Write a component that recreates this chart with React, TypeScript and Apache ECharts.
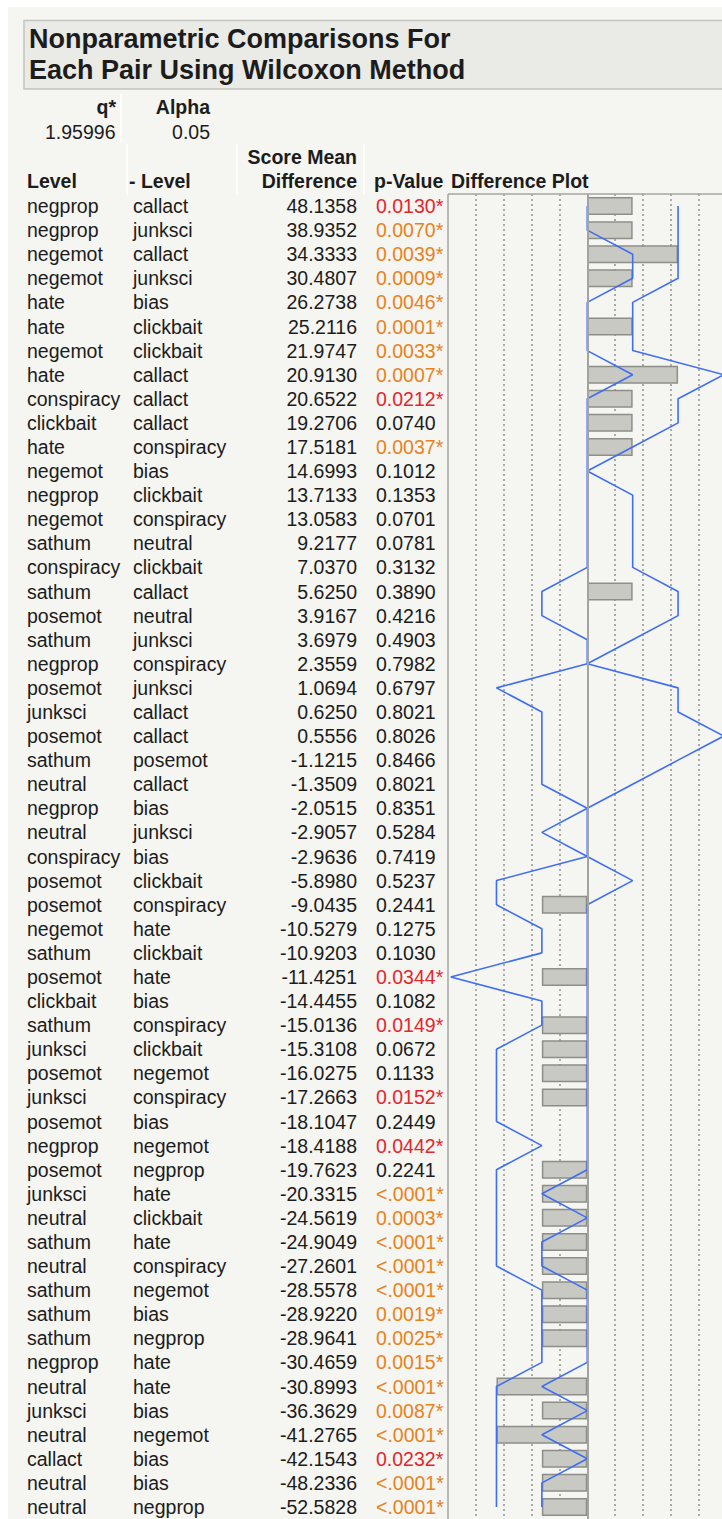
import React, { useEffect, useRef } from "react";
import * as echarts from "echarts";

const LEVELS = ["negprop","negprop","negemot","negemot","hate","hate","negemot","hate","conspiracy","clickbait","hate","negemot","negprop","negemot","sathum","conspiracy","sathum","posemot","sathum","negprop","posemot","junksci","posemot","sathum","neutral","negprop","neutral","conspiracy","posemot","posemot","negemot","sathum","posemot","clickbait","sathum","junksci","posemot","junksci","posemot","negprop","posemot","junksci","neutral","sathum","neutral","sathum","sathum","sathum","negprop","neutral","junksci","neutral","callact","neutral","neutral"];

const MINUS_LEVELS = ["callact","junksci","callact","junksci","bias","clickbait","clickbait","callact","callact","callact","conspiracy","bias","clickbait","conspiracy","neutral","clickbait","callact","neutral","junksci","conspiracy","junksci","callact","callact","posemot","callact","bias","junksci","bias","clickbait","conspiracy","hate","clickbait","hate","bias","conspiracy","clickbait","negemot","conspiracy","bias","negemot","negprop","hate","clickbait","hate","conspiracy","negemot","bias","negprop","hate","hate","bias","negemot","bias","bias","negprop"];

const SCORE_DIFF = [48.1358,38.9352,34.3333,30.4807,26.2738,25.2116,21.9747,20.9130,20.6522,19.2706,17.5181,14.6993,13.7133,13.0583,9.2177,7.0370,5.6250,3.9167,3.6979,2.3559,1.0694,0.6250,0.5556,-1.1215,-1.3509,-2.0515,-2.9057,-2.9636,-5.8980,-9.0435,-10.5279,-10.9203,-11.4251,-14.4455,-15.0136,-15.3108,-16.0275,-17.2663,-18.1047,-18.4188,-19.7623,-20.3315,-24.5619,-24.9049,-27.2601,-28.5578,-28.9220,-28.9641,-30.4659,-30.8993,-36.3629,-41.2765,-42.1543,-48.2336,-52.5828];

const P_VALUES = ["0.0130","0.0070","0.0039","0.0009","0.0046","0.0001","0.0033","0.0007","0.0212","0.0740","0.0037","0.1012","0.1353","0.0701","0.0781","0.3132","0.3890","0.4216","0.4903","0.7982","0.6797","0.8021","0.8026","0.8466","0.8021","0.8351","0.5284","0.7419","0.5237","0.2441","0.1275","0.1030","0.0344","0.1082","0.0149","0.0672","0.1133","0.0152","0.2449","0.0442","0.2241","<.0001","0.0003","<.0001","<.0001","<.0001","0.0019","0.0025","0.0015","<.0001","0.0087","<.0001","0.0232","<.0001","<.0001"];

// Difference plot bars as drawn in the picture (plot units, null = no bar)
const PLOT_BARS = [16.3,16.3,32.6,16.3,null,16.3,null,32.6,16.3,16.3,16.3,null,null,null,null,null,16.3,
  null,null,null,null,null,null,null,null,null,null,null,null,
  -16.3,null,null,-16.3,null,-16.3,-16.3,-16.3,-16.3,null,null,-16.3,-16.3,-16.3,-16.3,-16.3,-16.3,-16.3,-16.3,null,-32.6,-16.3,-32.6,-16.3,-16.3,-16.3];

// Blue lines in the difference plot (plot units)
const UPPER_LINE = [32.6,32.6,32.6,32.6,16.3,16.3,16.3,49,32.6,32.6,16.3,0,
  16.3,16.3,16.3,16.3,32.6,32.6,16.3,0,32.6,32.6,49,32.6,16.3,0,0,0,16.3,0,
  0,0,0,0,0,0,0,0,0,0,0,
  -16.3,0,-16.3,-16.3,0,0,0,0,-16.3,0,-16.3,0,-16.3,-16.3];

const LOWER_LINE = [0,0,16.3,16.3,0,0,0,16.3,0,0,0,0,
  0,0,0,0,-16.3,-16.3,0,0,-32.6,-16.3,-16.3,-16.3,-16.3,0,-16.3,0,-32.6,-32.6,
  -16.3,-16.3,-49,-16.3,-16.3,-32.6,-32.6,-32.6,-32.6,-16.3,-32.6,
  -32.6,-32.6,-32.6,-32.6,-16.3,-16.3,-16.3,-16.3,-32.6,-32.6,-32.6,-32.6,-32.6,-32.6];

const Q_STAR = "1.95996";
const ALPHA = "0.05";

const FONT = "'Liberation Sans', Arial, Helvetica, sans-serif";
const TXT = "#1c1c1c";
const RED = "#e3262f";
const ORANGE = "#e8821c";

function pNum(p: string) {
  return p.startsWith("<") ? 0.00001 : parseFloat(p);
}

export default function App() {
  const ref = useRef<HTMLDivElement>(null);

  useEffect(() => {
    const chart = echarts.init(ref.current!, null, { renderer: "svg" });
    const cats = LEVELS.map((_, i) => String(i));
    const fs = 19.5;

    const baseY = (offset: number, align: string, fmt: (i: number) => string, extra: any = {}) => ({
      type: "category",
      data: cats,
      inverse: true,
      gridIndex: 0,
      position: "left",
      offset,
      axisLine: { show: false },
      axisTick: { show: false },
      splitLine: { show: false },
      axisLabel: {
        interval: 0,
        margin: 0,
        align,
        fontFamily: FONT,
        fontSize: fs,
        color: TXT,
        formatter: (v: string) => fmt(Number(v)),
        ...extra,
      },
    });

    const headText = (text: string, x: number, y: number, align: string, bold = true, size = fs) => ({
      type: "text",
      x,
      y,
      z: 100,
      style: {
        text,
        fill: TXT,
        fontFamily: FONT,
        fontSize: size,
        fontWeight: bold ? "bold" : "normal",
        align,
        verticalAlign: "middle",
      },
    });

    const line = (x1: number, y1: number, x2: number, y2: number, color: string, z: number) => ({
      type: "line",
      z,
      shape: { x1, y1, x2, y2 },
      style: { stroke: color, lineWidth: 1.5 },
    });

    chart.setOption({
      animation: false,
      backgroundColor: "#ffffff",
      graphic: [
        { type: "rect", z: -100, shape: { x: 8, y: 7, width: 720, height: 1520 }, style: { fill: "#f5f5f1" } },
        { type: "rect", z: -90, shape: { x: 24, y: 20.5, width: 720, height: 68.5 }, style: { fill: "#eaeae6", stroke: "#c4c4bf", lineWidth: 1.5 } },
        headText("Nonparametric Comparisons For", 29, 39, "left", true, 27),
        headText("Each Pair Using Wilcoxon Method", 29, 70, "left", true, 27),
        line(121, 94, 121, 142, "#ffffff", 1),
        line(127, 144, 127, 195, "#ffffff", 1),
        line(237, 144, 237, 195, "#ffffff", 1),
        line(364, 144, 364, 195, "#ffffff", 1),
        line(448, 194, 448, 1530, "#a4a4a0", 50),
        line(448, 194, 730, 194, "#a4a4a0", 50),
        headText("q*", 116, 107, "right"),
        headText("Alpha", 210, 107, "right"),
        headText(Q_STAR, 115.5, 132, "right", false),
        headText(ALPHA, 210, 132, "right", false),
        headText("Score Mean", 357, 157, "right"),
        headText("Level", 27, 180.5, "left"),
        headText("- Level", 129, 180.5, "left"),
        headText("Difference", 357, 180.5, "right"),
        headText("p-Value", 374, 180.5, "left"),
        headText("Difference Plot", 451, 180.5, "left"),
      ],
      grid: {
        left: 448,
        top: 194,
        right: 0,
        height: 1326.05,
        show: false,
        containLabel: false,
      },
      xAxis: {
        type: "value",
        min: -50,
        max: 48.37,
        interval: 10,
        axisLabel: { show: false },
        axisLine: { show: false },
        axisTick: { show: false },
        splitLine: {
          show: true,
          showMinLine: false,
          showMaxLine: false,
          lineStyle: { type: [2, 3], color: "#93938f", width: 1.5 },
        },
      },
      yAxis: [
        baseY(421, "left", (i) => LEVELS[i]),
        baseY(315, "left", (i) => MINUS_LEVELS[i]),
        baseY(91, "right", (i) => SCORE_DIFF[i].toFixed(4)),
        baseY(72, "left", (i) => {
          const p = P_VALUES[i];
          const v = pNum(p);
          if (v < 0.01) return "{o|" + p + "*}";
          if (v < 0.05) return "{r|" + p + "*}";
          return p;
        }, {
          rich: {
            o: { color: ORANGE, fontFamily: FONT, fontSize: fs },
            r: { color: RED, fontFamily: FONT, fontSize: fs },
          },
        }),
      ],
      series: [
        {
          type: "bar",
          xAxisIndex: 0,
          yAxisIndex: 0,
          data: PLOT_BARS.map((v) => (v === null ? "-" : v)),
          barWidth: 18,
          itemStyle: { color: "#c9c9c4", borderColor: "#8e8e89", borderWidth: 1.5 },
          markLine: {
            silent: true,
            symbol: "none",
            label: { show: false },
            lineStyle: { type: "solid", color: "#a3a39f", width: 2 },
            data: [{ xAxis: 0 }],
          },
          z: 2,
        },
        {
          type: "line",
          xAxisIndex: 0,
          yAxisIndex: 0,
          data: UPPER_LINE.map((v, i) => [v, i]),
          symbol: "none",
          lineStyle: { color: "#3e6ef2", width: 1.6 },
          z: 3,
        },
        {
          type: "line",
          xAxisIndex: 0,
          yAxisIndex: 0,
          data: LOWER_LINE.map((v, i) => [v, i]),
          symbol: "none",
          lineStyle: { color: "#3e6ef2", width: 1.6 },
          z: 3,
        },
      ],
    });

    return () => chart.dispose();
  }, []);

  return (
    <div
      ref={ref}
      style={{ position: "absolute", left: 0, top: 0, width: 722, height: 1519 }}
    />
  );
}
